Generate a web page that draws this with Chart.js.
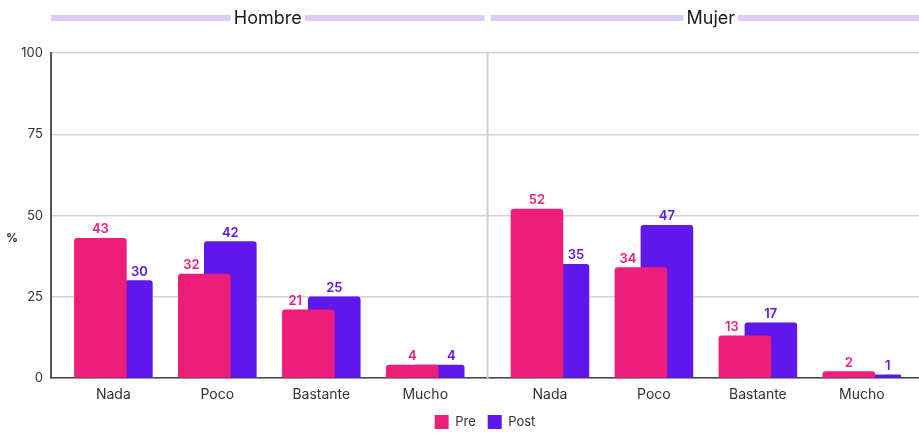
<!DOCTYPE html>
<html>
<head>
<meta charset="utf-8">
<script src="https://cdn.jsdelivr.net/npm/chart.js@4.4.1/dist/chart.umd.min.js"></script>
<style>
    html, body { margin: 0; padding: 0; background: #ffffff; }
    #wrap { width: 919px; height: 434px; position: relative; }
</style>
</head>
<body>
<div id="wrap"><canvas id="chart"></canvas></div>
<script>
// Data
const categories = ['Nada', 'Poco', 'Bastante', 'Mucho'];
const panels = ['Hombre', 'Mujer'];
const preHombre = [43, 32, 21, 4];
const postHombre = [30, 42, 25, 4];
const preMujer = [52, 34, 13, 2];
const postMujer = [35, 47, 17, 1];
const yTicks = [0, 25, 50, 75, 100];

// Style
const PINK = '#EC1E79';
const PURPLE = '#5F17EB';
const LAVENDER = '#DCCCF7';
const FONT = 'Inter, "Noto Sans", sans-serif';
const PANEL_STEP = 4.2; // x distance between the first category of each panel

// x position of category i in panel p
const xPos = (p, i) => p * PANEL_STEP + i;
const tickPositions = [];
panels.forEach((_, p) => categories.forEach((_, i) => tickPositions.push(xPos(p, i))));

const toPoints = (hombre, mujer) => [
    ...hombre.map((v, i) => ({ x: xPos(0, i), y: v })),
    ...mujer.map((v, i) => ({ x: xPos(1, i), y: v }))
];

// Headers (Hombre / Mujer) and panel divider
const panelPlugin = {
    id: 'panels',
    beforeDatasetsDraw(chart) {
        const { ctx, chartArea } = chart;
        const x = chart.scales.x;
        const divider = x.getPixelForValue(PANEL_STEP - 0.6);
        ctx.save();
        ctx.strokeStyle = '#D0D0D0';
        ctx.lineWidth = 2;
        ctx.beginPath();
        ctx.moveTo(divider, chartArea.top);
        ctx.lineTo(divider, chartArea.bottom);
        ctx.stroke();
        ctx.restore();
    },
    afterDraw(chart) {
        const { ctx, chartArea } = chart;
        const x = chart.scales.x;
        const divider = x.getPixelForValue(PANEL_STEP - 0.6);
        const spans = [
            [chartArea.left, divider - 3],
            [divider + 3, chartArea.right + 12]
        ];
        ctx.save();
        ctx.font = '18px ' + FONT;
        ctx.textAlign = 'center';
        ctx.textBaseline = 'middle';
        spans.forEach(([a, b], p) => {
            const cx = (a + b) / 2;
            const w = ctx.measureText(panels[p]).width;
            ctx.fillStyle = LAVENDER;
            ctx.fillRect(a, 15, cx - w / 2 - 3 - a, 6);
            ctx.fillRect(cx + w / 2 + 3, 15, b - (cx + w / 2 + 3), 6);
            ctx.fillStyle = '#1a1a1a';
            ctx.fillText(panels[p], cx, 19);
        });

        // % label
        ctx.font = '600 12px ' + FONT;
        ctx.fillStyle = '#222';
        ctx.textAlign = 'center';
        ctx.fillText('%', 12, 238);
        ctx.restore();
    }
};

// Value labels over the bars
const valueLabels = {
    id: 'valueLabels',
    afterDatasetsDraw(chart) {
        const { ctx } = chart;
        const preMeta = chart.getDatasetMeta(0);
        const postMeta = chart.getDatasetMeta(1);
        ctx.save();
        ctx.font = '600 13px ' + FONT;
        ctx.textAlign = 'center';
        ctx.textBaseline = 'alphabetic';
        preMeta.data.forEach((bar, i) => {
            const post = postMeta.data[i];
            const pv = chart.data.datasets[0].data[i].y;
            const qv = chart.data.datasets[1].data[i].y;
            const q = bar.width / 4;
            ctx.fillStyle = PINK;
            ctx.fillText(pv, bar.x - (pv >= qv ? 0 : q), bar.y - 5);
            ctx.fillStyle = PURPLE;
            ctx.fillText(qv, post.x + (qv > pv ? 0 : q), post.y - 5);
        });
        ctx.restore();
    }
};

const ctx = document.getElementById('chart').getContext('2d');
new Chart(ctx, {
    type: 'bar',
    data: {
        datasets: [
            {
                label: 'Pre',
                data: toPoints(preHombre, preMujer),
                backgroundColor: PINK,
                borderRadius: { topLeft: 3, topRight: 3 },
                borderSkipped: 'bottom'
            },
            {
                label: 'Post',
                data: toPoints(postHombre, postMujer),
                backgroundColor: PURPLE,
                borderRadius: { topLeft: 3, topRight: 3 },
                borderSkipped: 'bottom'
            }
        ]
    },
    options: {
        responsive: true,
        maintainAspectRatio: false,
        animation: false,
        categoryPercentage: 0.5,
        barPercentage: 2,
        layout: { padding: { top: 53, right: 0, left: 0, bottom: -5 } },
        plugins: {
            legend: {
                position: 'bottom',
                fullSize: false,
                labels: {
                    color: '#333',
                    boxWidth: 14,
                    boxHeight: 14,
                    padding: 12,
                    font: { family: FONT, size: 13 }
                }
            },
            tooltip: { enabled: false }
        },
        scales: {
            x: {
                type: 'linear',
                min: -0.6,
                max: 7.75,
                offset: false,
                afterBuildTicks: (scale) => {
                    scale.ticks = tickPositions.map(v => ({ value: v }));
                },
                grid: { display: false, offset: false },
                border: { color: '#444', width: 1.5 },
                ticks: {
                    autoSkip: false,
                    maxRotation: 0,
                    padding: 0,
                    color: '#333',
                    font: { family: FONT, size: 14 },
                    callback: (v, i) => categories[i % categories.length]
                }
            },
            y: {
                min: 0,
                max: 100,
                afterFit: (scale) => { scale.width = 51; },
                afterBuildTicks: (scale) => {
                    scale.ticks = yTicks.map(v => ({ value: v }));
                },
                grid: { color: '#D4D4D4', lineWidth: 1.5, drawTicks: false },
                border: { color: '#555', width: 2 },
                ticks: {
                    padding: 8,
                    color: '#333',
                    font: { family: FONT, size: 13 }
                }
            }
        }
    },
    plugins: [panelPlugin, valueLabels]
});
</script>
</body>
</html>
